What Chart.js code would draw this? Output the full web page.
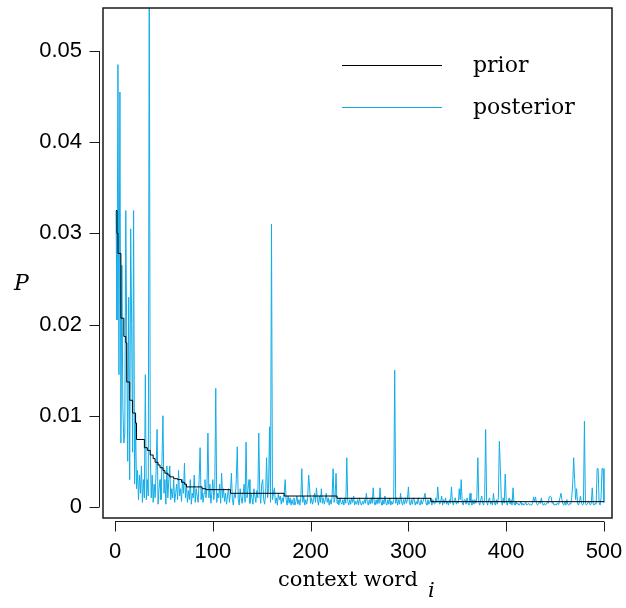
<!DOCTYPE html>
<html>
<head>
<meta charset="utf-8">
<script src="https://cdn.jsdelivr.net/npm/chart.js@4.4.1/dist/chart.umd.min.js"></script>
<style>
  html, body { margin: 0; padding: 0; background: #fff; }
  canvas { display: block; }
</style>
</head>
<body>
<canvas id="myChart" width="626" height="608"></canvas>
<script>
const seriesNames = ['prior', 'posterior'];
const xTicks = [0, 100, 200, 300, 400, 500];
const yTicks = [0, 0.01, 0.02, 0.03, 0.04, 0.05];
const yTickLabels = ['0', '0.01', '0.02', '0.03', '0.04', '0.05'];

// prior: step points (word index where a new level starts, level)
const priorX = [1, 2, 3, 6, 9, 11, 12, 15, 18, 21, 22, 30, 33, 36, 39, 41, 44, 46, 49, 51, 54, 56, 60, 64, 68, 71, 73, 89, 93, 118, 173, 227, 323, 500];
const priorY = [0.0325, 0.0300, 0.0278, 0.0207, 0.0187, 0.0180, 0.0137, 0.0117, 0.0103, 0.0092, 0.0074, 0.0065, 0.0062, 0.0057, 0.0053, 0.0049, 0.0046, 0.0043, 0.0040, 0.0037, 0.0035, 0.0033, 0.0031, 0.0030, 0.0027, 0.0025, 0.0022, 0.0020, 0.0019, 0.0015, 0.0012, 0.00095, 0.00058, 0.00058];

// posterior, one value per context word 1..500
const posterior = [
  0.0325, 0.0205, 0.0485, 0.0145, 0.0455, 0.0070, 0.0265, 0.0110, 0.0070, 0.0080,
  0.0325, 0.0180, 0.0050, 0.0230, 0.0030, 0.0305, 0.0200, 0.0060, 0.0325, 0.0025,
  0.0095, 0.0020, 0.0040, 0.0008, 0.0035, 0.0015, 0.0045, 0.0005, 0.0030, 0.0010,
  0.0145, 0.0008, 0.0030, 0.0012, 0.0600, 0.0065, 0.0010, 0.0035, 0.0005, 0.0025,
  0.0010, 0.0040, 0.0085, 0.0003, 0.0020, 0.0030, 0.0008, 0.0050, 0.0100, 0.0015,
  0.0030, 0.0003, 0.0045, 0.0010, 0.0030, 0.0045, 0.0008, 0.0020, 0.0010, 0.0030,
  0.0005, 0.0015, 0.0025, 0.0008, 0.0040, 0.0012, 0.0020, 0.0006, 0.0030, 0.0015,
  0.0048, 0.0010, 0.0025, 0.0005, 0.0018, 0.0008, 0.0030, 0.0003, 0.0015, 0.0010,
  0.0035, 0.0005, 0.0020, 0.0012, 0.0005, 0.0030, 0.0065, 0.0008, 0.0020, 0.0005,
  0.0015, 0.0030, 0.0010, 0.0020, 0.0081, 0.0010, 0.0025, 0.0004, 0.0015, 0.0030,
  0.0008, 0.0020, 0.0130, 0.0005, 0.0015, 0.0010, 0.0025, 0.0004, 0.0037, 0.0010,
  0.0020, 0.0006, 0.0015, 0.0003, 0.0012, 0.0020, 0.0005, 0.0015, 0.0037, 0.0008,
  0.0002, 0.0015, 0.0010, 0.0030, 0.0066, 0.0008, 0.0002, 0.0020, 0.0010, 0.0004,
  0.0015, 0.0025, 0.0005, 0.0071, 0.0010, 0.0020, 0.0030, 0.0004, 0.0015, 0.0010,
  0.0003, 0.0020, 0.0012, 0.0005, 0.0018, 0.0010, 0.0081, 0.0015, 0.0004, 0.0025,
  0.0030, 0.0008, 0.0003, 0.0015, 0.0054, 0.0010, 0.0020, 0.0088, 0.0005, 0.0310,
  0.0008, 0.0015, 0.0021, 0.0004, 0.0010, 0.0002, 0.0015, 0.0008, 0.0012, 0.0003,
  0.0010, 0.0005, 0.0015, 0.0030, 0.0008, 0.0002, 0.0012, 0.0004, 0.0010, 0.0002,
  0.0008, 0.0003, 0.0010, 0.0002, 0.0006, 0.0012, 0.0003, 0.0008, 0.0002, 0.0010,
  0.0042, 0.0005, 0.0012, 0.0002, 0.0008, 0.0003, 0.0010, 0.0035, 0.0021, 0.0004,
  0.0010, 0.0003, 0.0008, 0.0015, 0.0005, 0.0021, 0.0008, 0.0002, 0.0012, 0.0005,
  0.0020, 0.0004, 0.0010, 0.0003, 0.0008, 0.0015, 0.0005, 0.0010, 0.0002, 0.0008,
  0.0003, 0.0012, 0.0042, 0.0005, 0.0010, 0.0037, 0.0004, 0.0008, 0.0002, 0.0010,
  0.0005, 0.0003, 0.0008, 0.0002, 0.0010, 0.0004, 0.0054, 0.0006, 0.0002, 0.0008,
  0.0003, 0.0010, 0.0005, 0.0012, 0.0002, 0.0006, 0.0003, 0.0008, 0.0002, 0.0010,
  0.0004, 0.0002, 0.0006, 0.0003, 0.0008, 0.0004, 0.0015, 0.0005, 0.0002, 0.0008,
  0.0003, 0.0010, 0.0004, 0.0021, 0.0006, 0.0002, 0.0008, 0.0003, 0.0010, 0.0004,
  0.0021, 0.0005, 0.0002, 0.0008, 0.0003, 0.0012, 0.0004, 0.0002, 0.0008, 0.0003,
  0.0010, 0.0002, 0.0006, 0.0003, 0.0008, 0.0150, 0.0004, 0.0010, 0.0002, 0.0008,
  0.0003, 0.0015, 0.0005, 0.0002, 0.0008, 0.0003, 0.0010, 0.0004, 0.0008, 0.0022,
  0.0005, 0.0002, 0.0008, 0.0003, 0.0010, 0.0008, 0.0002, 0.0006, 0.0003, 0.0010,
  0.0004, 0.0002, 0.0008, 0.0003, 0.0006, 0.0010, 0.0015, 0.0004, 0.0002, 0.0008,
  0.0003, 0.0006, 0.0010, 0.0002, 0.0008, 0.0004, 0.0003, 0.0010, 0.0005, 0.0022,
  0.0008, 0.0003, 0.0006, 0.0012, 0.0002, 0.0008, 0.0004, 0.0010, 0.0003, 0.0006,
  0.0002, 0.0008, 0.0004, 0.0022, 0.0006, 0.0002, 0.0008, 0.0010, 0.0003, 0.0006,
  0.0004, 0.0020, 0.0008, 0.0030, 0.0005, 0.0002, 0.0008, 0.0008, 0.0003, 0.0010,
  0.0004, 0.0002, 0.0015, 0.0005, 0.0002, 0.0008, 0.0003, 0.0008, 0.0004, 0.0010,
  0.0054, 0.0005, 0.0002, 0.0008, 0.0012, 0.0004, 0.0002, 0.0010, 0.0085, 0.0006,
  0.0002, 0.0008, 0.0010, 0.0003, 0.0006, 0.0002, 0.0015, 0.0004, 0.0002, 0.0008,
  0.0003, 0.0010, 0.0072, 0.0043, 0.0008, 0.0002, 0.0010, 0.0004, 0.0036, 0.0008,
  0.0002, 0.0006, 0.0010, 0.0003, 0.0008, 0.0002, 0.0021, 0.0004, 0.0002, 0.0006,
  0.0003, 0.0004, 0.0002, 0.0003, 0.0006, 0.0002, 0.0004, 0.0002, 0.0003, 0.0005,
  0.0002, 0.0003, 0.0004, 0.0002, 0.0003, 0.0002, 0.0004, 0.0011, 0.0006, 0.0011,
  0.0004, 0.0002, 0.0003, 0.0006, 0.0004, 0.0010, 0.0003, 0.0002, 0.0004, 0.0002,
  0.0003, 0.0005, 0.0004, 0.0011, 0.0012, 0.0011, 0.0004, 0.0005, 0.0002, 0.0003,
  0.0002, 0.0004, 0.0003, 0.0006, 0.0010, 0.0015, 0.0008, 0.0003, 0.0002, 0.0006,
  0.0002, 0.0008, 0.0003, 0.0002, 0.0004, 0.0003, 0.0010, 0.0025, 0.0054, 0.0030,
  0.0008, 0.0020, 0.0004, 0.0002, 0.0006, 0.0012, 0.0004, 0.0002, 0.0003, 0.0094,
  0.0004, 0.0002, 0.0003, 0.0006, 0.0005, 0.0002, 0.0004, 0.0021, 0.0003, 0.0002,
  0.0004, 0.0003, 0.0042, 0.0042, 0.0005, 0.0002, 0.0010, 0.0042, 0.0042, 0.0005
];
const words = posterior.map((v, i) => i + 1);

const seriesColors = ['#000000', '#12ace8'];

document.addEventListener('DOMContentLoaded', function() {

  Chart.defaults.font.family = '"Liberation Sans", Arial, sans-serif';
  Chart.defaults.color = '#000';

  // box, R-style axes, legend and axis titles
  const decorations = {
    id: 'decorations',
    afterDraw(chart) {
      const ctx = chart.ctx;
      const a = chart.chartArea;
      const xs = chart.scales.x;
      const ys = chart.scales.y;
      ctx.save();
      ctx.strokeStyle = '#1a1a1a';
      ctx.lineWidth = 1.5;
      ctx.strokeRect(a.left, a.top, a.right - a.left, a.bottom - a.top);

      ctx.lineWidth = 1;
      ctx.beginPath();
      const ay = a.bottom + 3.5;
      ctx.moveTo(xs.getPixelForValue(xTicks[0]), ay);
      ctx.lineTo(xs.getPixelForValue(xTicks[xTicks.length - 1]), ay);
      xTicks.forEach(v => {
        const px = Math.round(xs.getPixelForValue(v)) + 0.5;
        ctx.moveTo(px, ay);
        ctx.lineTo(px, ay + 10);
      });
      const ax = a.left - 3.5;
      ctx.moveTo(ax, ys.getPixelForValue(yTicks[0]));
      ctx.lineTo(ax, ys.getPixelForValue(yTicks[yTicks.length - 1]));
      yTicks.forEach(v => {
        const py = Math.round(ys.getPixelForValue(v)) + 0.5;
        ctx.moveTo(ax, py);
        ctx.lineTo(ax - 10, py);
      });
      ctx.stroke();

      // legend
      ctx.font = '22px "DejaVu Serif", serif';
      ctx.textBaseline = 'middle';
      ctx.textAlign = 'left';
      chart.data.datasets.forEach((ds, i) => {
        const ly = 65 + i * 42;
        ctx.strokeStyle = ds.borderColor;
        ctx.lineWidth = 1;
        ctx.beginPath();
        ctx.moveTo(342, ly + 0.5);
        ctx.lineTo(442, ly + 0.5);
        ctx.stroke();
        ctx.fillStyle = '#000';
        ctx.fillText(ds.label, 473, ly + 1);
      });

      // axis titles
      ctx.fillStyle = '#000';
      ctx.font = '21px "DejaVu Serif", serif';
      ctx.textBaseline = 'alphabetic';
      ctx.textAlign = 'left';
      ctx.fillText('context word', 278, 586);
      ctx.font = 'italic 21px "DejaVu Serif", serif';
      ctx.fillText('i', 428, 597);
      ctx.font = 'italic 22px "DejaVu Serif", serif';
      ctx.fillText('P', 14, 290);
      ctx.restore();
    }
  };

  const ctx = document.getElementById('myChart').getContext('2d');
  new Chart(ctx, {
    type: 'line',
    data: {
      datasets: [{
        label: seriesNames[0],
        data: priorX.map((x, i) => ({ x: x, y: priorY[i] })),
        borderColor: seriesColors[0],
        borderWidth: 1,
        stepped: 'before',
        pointRadius: 0
      }, {
        label: seriesNames[1],
        data: words.map((x, i) => ({ x: x, y: posterior[i] })),
        borderColor: seriesColors[1],
        borderWidth: 1,
        pointRadius: 0,
        tension: 0
      }]
    },
    options: {
      responsive: false,
      animation: false,
      layout: { padding: { top: 8, right: 14, left: 0, bottom: 0 } },
      plugins: {
        legend: { display: false },
        tooltip: { enabled: false }
      },
      scales: {
        x: {
          type: 'linear',
          min: -12.3,
          max: 508.2,
          grid: { display: false, drawTicks: false },
          border: { display: false },
          afterBuildTicks: s => { s.ticks = xTicks.map(v => ({ value: v })); },
          afterFit: s => { s.height = 90; s.paddingLeft = 0; s.paddingRight = 0; },
          ticks: {
            autoSkip: false,
            maxRotation: 0,
            padding: 21,
            font: { size: 22 },
            callback: v => String(v)
          }
        },
        y: {
          min: -0.00121,
          max: 0.05471,
          grid: { display: false, drawTicks: false },
          border: { display: false },
          afterBuildTicks: s => { s.ticks = yTicks.map(v => ({ value: v })); },
          afterFit: s => { s.width = 103; s.paddingTop = 0; s.paddingBottom = 0; },
          ticks: {
            autoSkip: false,
            padding: 21,
            font: { size: 22 },
            callback: v => yTickLabels[yTicks.indexOf(v)]
          }
        }
      }
    },
    plugins: [decorations]
  })
})
</script>
</body>
</html>
